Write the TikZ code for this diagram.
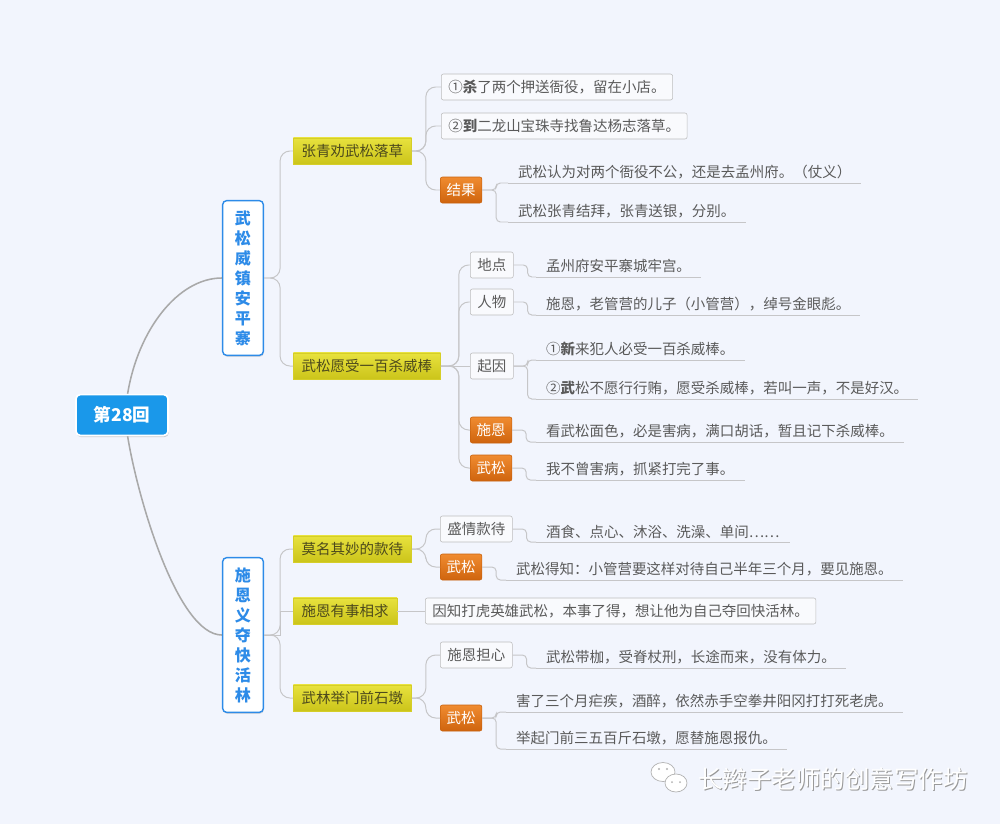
\documentclass[tikz,border=0pt]{standalone}
\usepackage{fontspec}
\setmainfont{Noto Sans CJK SC}
\usetikzlibrary{shadows}
\definecolor{bg}{HTML}{F2F5FD}
\definecolor{rootblue}{HTML}{1A98EA}
\definecolor{mainblue}{HTML}{2D8BE8}
\definecolor{ytop}{HTML}{E8E23E}
\definecolor{ybot}{HTML}{CBC41A}
\definecolor{yline}{HTML}{D5CE28}
\definecolor{ytext}{HTML}{4D4A1C}
\definecolor{otop}{HTML}{F08B30}
\definecolor{obot}{HTML}{CF640E}
\definecolor{oline}{HTML}{C8620E}
\definecolor{tagfill}{HTML}{F9FAFD}
\definecolor{tagline}{HTML}{BDBDBD}
\definecolor{lnk}{HTML}{C6C6C8}
\definecolor{trk}{HTML}{A9A9A9}
\definecolor{txt}{HTML}{5A5A5A}
\begin{document}
\begin{tikzpicture}[x=0.025cm, y=-0.025cm,
    every node/.style={font=\fontsize{10.3}{12}\selectfont, text=txt},
    link/.style={draw=lnk, line width=0.7pt},
    trunk/.style={draw=trk, line width=1.1pt},
    fan/.style={link, rounded corners=7pt},
    twig/.style={link, rounded corners=3pt},
    rootbox/.style={fill=rootblue, draw=white, line width=1.2pt, rounded corners=3pt, text=white,
        font=\fontsize{12.5}{14}\selectfont\bfseries, minimum width=2.3cm, minimum height=1.02cm,
        drop shadow={opacity=0.35, shadow xshift=0.5pt, shadow yshift=-1.2pt}},
    mainbox/.style={fill=white, draw=mainblue, line width=1pt, rounded corners=3pt, text=mainblue,
        font=\fontsize{11.4}{14.2}\selectfont\bfseries, align=center, minimum width=1.02cm, minimum height=3.87cm,
        drop shadow={opacity=0.25, shadow xshift=0.4pt, shadow yshift=-1pt}},
    topicbox/.style={anchor=west, top color=ytop, bottom color=ybot, draw=yline, text=ytext,
        minimum height=0.66cm, inner xsep=6pt},
    tagbox/.style={anchor=west, fill=tagfill, draw=tagline, rounded corners=1.5pt, minimum height=0.65cm, inner xsep=5pt},
    hotbox/.style={anchor=west, top color=otop, bottom color=obot, draw=oline, rounded corners=1.5pt, text=white,
        minimum height=0.65cm, inner xsep=4.5pt},
    leaf/.style={anchor=south west, inner xsep=7pt, inner ysep=2.5pt,
        append after command={(\tikzlastnode.south west) edge[link] (\tikzlastnode.south east)}}
  ]
  \fill[bg] (0,0) rectangle (1000,824);

  % trunk
  \node[rootbox] (r) at (122,415) {第28回};
  \node[mainbox] (m1) at (243,278) {武\\松\\威\\镇\\安\\平\\寨};
  \node[mainbox] (m2) at (243,635) {施\\恩\\义\\夺\\快\\活\\林};

  \node[topicbox] (a1) at (293,151) {张青劝武松落草};
  \node[topicbox] (a2) at (293,366) {武松愿受一百杀威棒};
  \node[topicbox] (a3) at (293,549) {莫名其妙的款待};
  \node[topicbox] (a4) at (293,611) {施恩有事相求};
  \node[topicbox] (a5) at (293,698) {武林举门前石墩};

  % 张青劝武松落草
  \node[tagbox] (b1) at (441,87) {①\textbf{杀}了两个押送衙役，留在小店。};
  \node[tagbox] (b2) at (441,126) {②\textbf{到}二龙山宝珠寺找鲁达杨志落草。};
  \node[hotbox] (h1) at (440,190) {结果};
  \node[leaf] (l1) at (508,183) {武松认为对两个衙役不公，还是去孟州府。（仗义）};
  \node[leaf] (l2) at (508,222) {武松张青结拜，张青送银，分别。};

  % 武松愿受一百杀威棒
  \node[tagbox] (c1) at (470,265) {地点};
  \node[tagbox] (c2) at (470,302) {人物};
  \node[tagbox] (c3) at (470,366) {起因};
  \node[hotbox] (h2) at (470,430) {施恩};
  \node[hotbox] (h3) at (470,468) {武松};
  \node[leaf] (l3) at (536,277) {孟州府安平寨城牢宫。};
  \node[leaf] (l4) at (536,315) {施恩，老管营的儿子（小管营），绰号金眼彪。};
  \node[leaf] (l5) at (536,360) {①\textbf{新}来犯人必受一百杀威棒。};
  \node[leaf] (l6) at (536,399) {②\textbf{武}松不愿行行贿，愿受杀威棒，若叫一声，不是好汉。};
  \node[leaf] (l7) at (536,442) {看武松面色，必是害病，满口胡话，暂且记下杀威棒。};
  \node[leaf] (l8) at (536,480) {我不曾害病，抓紧打完了事。};

  % 施恩义夺快活林
  \node[tagbox] (c4) at (440,529) {盛情款待};
  \node[hotbox] (h4) at (440,567) {武松};
  \node[leaf] (l9) at (536,542) {酒食、点心、沐浴、洗澡、单间……};
  \node[leaf] (l10) at (506,580) {武松得知：小管营要这样对待自己半年三个月，要见施恩。};
  \node[tagbox] (b3) at (425,611) {因知打虎英雄武松，本事了得，想让他为自己夺回快活林。};
  \node[tagbox] (c5) at (440,655) {施恩担心};
  \node[hotbox] (h5) at (440,718) {武松};
  \node[leaf] (l11) at (536,668) {武松带枷，受脊杖刑，长途而来，没有体力。};
  \node[leaf] (l12) at (506,712) {害了三个月疟疾，酒醉，依然赤手空拳井阳冈打打死老虎。};
  \node[leaf] (l13) at (506,749) {举起门前三五百斤石墩，愿替施恩报仇。};

  % connectors
  \draw[trunk] ([xshift=4pt]r.north) .. controls (138,330) and (178,278) .. (m1.west);
  \draw[trunk] ([xshift=4pt]r.south) .. controls (138,500) and (178,635) .. (m2.west);
  \draw[fan] (m1.east) -- ++(16,0) |- (a1.west);
  \draw[fan] (m1.east) -- ++(16,0) |- (a2.west);
  \draw[fan] (m2.east) -- ++(16,0) |- (a3.west);
  \draw[link] (m2.east) -- ++(16,0) |- (a4.west);
  \draw[fan] (m2.east) -- ++(16,0) |- (a5.west);

  \draw[fan] (a1.east) -- ++(14,0) |- (b1.west);
  \draw[fan] (a1.east) -- ++(14,0) |- (b2.west);
  \draw[fan] (a1.east) -- ++(14,0) |- (h1.west);
  \draw[twig] (h1.east) -- ++(14,0) |- (l1.south west);
  \draw[twig] (h1.east) -- ++(14,0) |- (l2.south west);

  \draw[fan] (a2.east) -- ++(18,0) |- (c1.west);
  \draw[fan] (a2.east) -- ++(18,0) |- (c2.west);
  \draw[link] (a2.east) -- (c3.west);
  \draw[fan] (a2.east) -- ++(18,0) |- (h2.west);
  \draw[fan] (a2.east) -- ++(18,0) |- (h3.west);
  \draw[twig] (c1.east) -- ++(14,0) |- (l3.south west);
  \draw[twig] (c2.east) -- ++(14,0) |- (l4.south west);
  \draw[twig] (c3.east) -- ++(14,0) |- (l5.south west);
  \draw[twig] (c3.east) -- ++(14,0) |- (l6.south west);
  \draw[twig] (h2.east) -- ++(14,0) |- (l7.south west);
  \draw[twig] (h3.east) -- ++(14,0) |- (l8.south west);

  \draw[fan] (a3.east) -- ++(14,0) |- (c4.west);
  \draw[fan] (a3.east) -- ++(14,0) |- (h4.west);
  \draw[twig] (c4.east) -- ++(14,0) |- (l9.south west);
  \draw[twig] (h4.east) -- ++(14,0) |- (l10.south west);
  \draw[link] (a4.east) -- (b3.west);
  \draw[fan] (a5.east) -- ++(14,0) |- (c5.west);
  \draw[fan] (a5.east) -- ++(14,0) |- (h5.west);
  \draw[twig] (c5.east) -- ++(14,0) |- (l11.south west);
  \draw[twig] (h5.east) -- ++(14,0) |- (l12.south west);
  \draw[twig] (h5.east) -- ++(14,0) |- (l13.south west);

  % watermark
  \filldraw[fill=white, draw=gray!60, line width=0.5pt] (663,772) ellipse (12 and 9.5);
  \filldraw[fill=white, draw=gray!60, line width=0.5pt] (676,783) ellipse (11 and 9);
  \fill[gray!60] (659,769) circle (1.2) (667,769) circle (1.2) (672,782) circle (1) (680,782) circle (1);
  \node[font=\fontsize{17.4}{20}\selectfont, text=gray!80] (wms) at (834,780.5) {长辫子老师的创意写作坊};
  \node[font=\fontsize{17.4}{20}\selectfont, text=white] (wm) at (833,779.5) {长辫子老师的创意写作坊};
\end{tikzpicture}
\end{document}
